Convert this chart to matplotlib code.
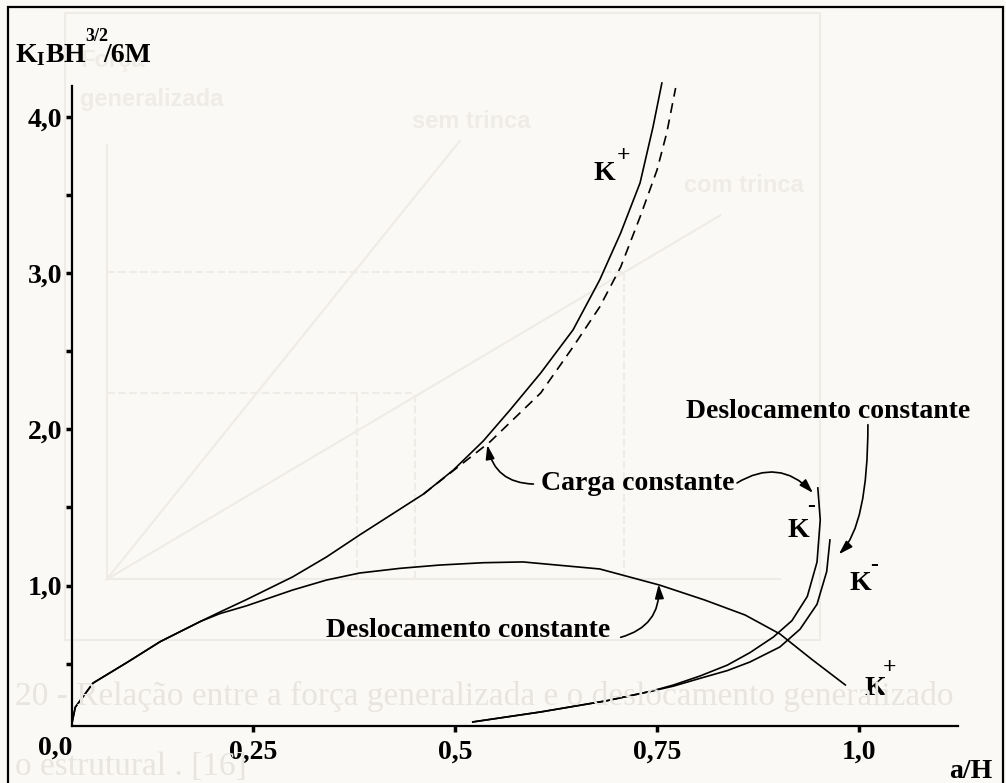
import matplotlib
matplotlib.use('Agg')
import matplotlib.pyplot as plt
from matplotlib.lines import Line2D
from matplotlib.patches import Rectangle

plt.rcParams['font.family'] = ['Liberation Serif', 'DejaVu Serif']
plt.rcParams['font.weight'] = 'bold'
plt.rcParams['mathtext.fontset'] = 'custom'
plt.rcParams['mathtext.rm'] = 'Liberation Serif:bold'
plt.rcParams['mathtext.bf'] = 'Liberation Serif:bold'
plt.rcParams['mathtext.it'] = 'Liberation Serif:bold'

# K+ , carga constante (solid line)
a_carga = [0.026, 0.030, 0.052, 0.095, 0.135, 0.185, 0.209, 0.242, 0.299, 0.341, 0.382,
           0.461, 0.498, 0.535, 0.568, 0.606, 0.646, 0.679, 0.705, 0.729, 0.745, 0.756]
k_carga = [0.12, 0.22, 0.375, 0.51, 0.64, 0.77, 0.83, 0.91, 1.055, 1.183, 1.324,
           1.586, 1.74, 1.926, 2.124, 2.361, 2.637, 2.957, 3.258, 3.579, 3.937, 4.219]

# K+ , dashed branch
a_tracejada = [0.461, 0.543, 0.606, 0.646, 0.679, 0.705, 0.729, 0.750, 0.762, 0.773]
k_tracejada = [1.586, 1.919, 2.233, 2.528, 2.784, 3.040, 3.361, 3.662, 3.899, 4.187]

# K+ , deslocamento constante
a_desl = [0.026, 0.030, 0.052, 0.095, 0.135, 0.185, 0.209, 0.242, 0.299, 0.341, 0.382,
          0.432, 0.481, 0.535, 0.584, 0.679, 0.753, 0.809, 0.859, 0.902, 0.941, 0.983]
k_desl = [0.12, 0.22, 0.375, 0.51, 0.64, 0.77, 0.82, 0.87, 0.971, 1.035, 1.080,
          1.110, 1.131, 1.146, 1.151, 1.106, 1.003, 0.907, 0.811, 0.690, 0.529, 0.363]

# K- , carga constante
a_km_carga = [0.522, 0.606, 0.688, 0.742, 0.770, 0.803, 0.837, 0.865, 0.894,
              0.917, 0.936, 0.948, 0.952, 0.949]
k_km_carga = [0.126, 0.190, 0.262, 0.322, 0.362, 0.420, 0.490, 0.570, 0.670,
              0.775, 0.930, 1.150, 1.420, 1.625]

# K- , deslocamento constante
a_km_desl = [0.522, 0.606, 0.688, 0.742, 0.770, 0.803, 0.837, 0.865, 0.902,
             0.927, 0.948, 0.960, 0.964]
k_km_desl = [0.126, 0.190, 0.262, 0.322, 0.355, 0.405, 0.455, 0.510, 0.606,
             0.720, 0.880, 1.090, 1.292]

x_ticks = [0.25, 0.5, 0.75, 1.0]
x_labels = ['0,25', '0,5', '0,75', '1,0']
y_ticks = [1.0, 2.0, 3.0, 4.0]
y_labels = ['1,0', '2,0', '3,0', '4,0']
y_minor = [0.5, 1.5, 2.5, 3.5]

bg = '#fbf9f5'
ghost_line = '#efece8'
ghost_text = '#e8e5e0'

fig = plt.figure(figsize=(10.06, 7.83), dpi=100, facecolor=bg)

# faint show-through of the page behind the figure
fig.add_artist(Rectangle((0.065, 0.183), 0.75, 0.80, transform=fig.transFigure,
                         fill=False, ec=ghost_line, lw=1.5, zorder=0))
ghost_lines = [([0.106, 0.106], [0.26, 0.815]), ([0.106, 0.775], [0.26, 0.26]),
               ([0.106, 0.457], [0.26, 0.82]), ([0.106, 0.716], [0.26, 0.725])]
for gx, gy in ghost_lines:
    fig.add_artist(Line2D(gx, gy, color=ghost_line, lw=1.5, zorder=0))
for gx, gy in [([0.106, 0.62], [0.653, 0.653]), ([0.106, 0.41], [0.498, 0.498])]:
    fig.add_artist(Line2D(gx, gy, color=ghost_line, lw=1.5, ls='--', zorder=0))
for gx in [0.355, 0.413, 0.62]:
    fig.add_artist(Line2D([gx, gx], [0.26, 0.653 if gx > 0.6 else 0.498],
                          color=ghost_line, lw=1.5, ls='--', zorder=0))
ghost_kw = dict(color=ghost_line, fontsize=17, weight='bold', family='Liberation Sans')
fig.text(0.08, 0.915, 'Força', **ghost_kw)
fig.text(0.08, 0.865, 'generalizada', **ghost_kw)
fig.text(0.41, 0.837, 'sem trinca', **ghost_kw)
fig.text(0.68, 0.755, 'com trinca', **ghost_kw)
fig.text(0.015, 0.099, '20 - Relação entre a força generalizada e o deslocamento generalizado',
         color=ghost_text, fontsize=24, weight='normal')
fig.text(0.015, 0.01, 'o estrutural . [16]', color=ghost_text, fontsize=24, weight='normal')

# outer frame of the scanned figure
fig.add_artist(Rectangle((0.008, -0.05), 0.989, 1.041, transform=fig.transFigure,
                         fill=False, ec='black', lw=1.6))

ax = fig.add_axes([0.0716, 0.0728, 0.8807, 0.8174])
ax.set_facecolor('none')
ax.set_xlim(0.026, 1.1225)
ax.set_ylim(0.1, 4.2)

line_kw = dict(color='black', lw=1.2, clip_on=False)
ax.plot(a_carga, k_carga, **line_kw)
ax.plot(a_tracejada, k_tracejada, ls=(0, (6, 4)), **line_kw)
ax.plot(a_desl, k_desl, **line_kw)
ax.plot(a_km_carga, k_km_carga, **line_kw)
ax.plot(a_km_desl, k_km_desl, **line_kw)

for s in ['top', 'right']:
    ax.spines[s].set_visible(False)
for s in ['left', 'bottom']:
    ax.spines[s].set_linewidth(1.6)

ax.set_xticks(x_ticks)
ax.set_xticklabels(x_labels)
ax.set_yticks(y_ticks)
ax.set_yticklabels(y_labels)
ax.set_yticks(y_minor, minor=True)
ax.tick_params(axis='both', which='both', direction='out', length=4, width=2.5)
ax.tick_params(axis='x', labelsize=20, pad=6)
ax.tick_params(axis='y', labelsize=20, pad=3)
ax.annotate('0,0', xy=(0, 0), xycoords='axes fraction', xytext=(0, -7),
            textcoords='offset points', ha='right', va='top', fontsize=20)

# axis titles
fig.text(0.015, 0.921, r'$\mathbf{K_IBH}$', fontsize=20, va='baseline')
fig.text(0.085, 0.947, '3/2', fontsize=13, va='baseline')
fig.text(0.103, 0.921, '/6M', fontsize=20, va='baseline')
fig.text(0.965, 0.0153, 'a/H', fontsize=20, ha='center', va='center')

fs = 20
k_labels = [(0.671, 3.598, '+', 21.6, 17.3), (0.911, 1.311, '-', 17.3, 21.6),
            (0.988, 0.971, '-', 18.0, 18.0), (1.007, 0.299, '+', 18.0, 19.4)]
for kx, ky, sign, dx, dy in k_labels:
    ax.text(kx, ky, 'K', fontsize=fs, va='baseline')
    ax.annotate(sign, xy=(kx, ky), xytext=(dx, dy), textcoords='offset points',
                ha='center', va='center', fontsize=17)

ax.text(0.607, 1.612, 'Carga constante', fontsize=fs, va='baseline')
ax.text(0.786, 2.073, 'Deslocamento constante', fontsize=fs, va='baseline')
ax.text(0.340, 0.670, 'Deslocamento constante', fontsize=fs, va='baseline')

arrow = dict(arrowstyle='-|>,head_length=0.7,head_width=0.22', color='black', lw=1.2,
             mutation_scale=12, shrinkA=0, shrinkB=0)
ax.annotate('', xy=(0.540, 1.900), xytext=(0.597, 1.650),
            arrowprops=dict(arrow, connectionstyle='arc3,rad=-0.4'))
ax.annotate('', xy=(0.943, 1.593), xytext=(0.849, 1.657),
            arrowprops=dict(arrow, connectionstyle='arc3,rad=-0.4'))
ax.annotate('', xy=(0.975, 1.20), xytext=(1.011, 2.03),
            arrowprops=dict(arrow, connectionstyle='angle3,angleA=90,angleB=45'))
ax.annotate('', xy=(0.752, 1.008), xytext=(0.705, 0.668),
            arrowprops=dict(arrow, connectionstyle='arc3,rad=0.4'))

fig.savefig('out.png', dpi=100, facecolor=bg)
